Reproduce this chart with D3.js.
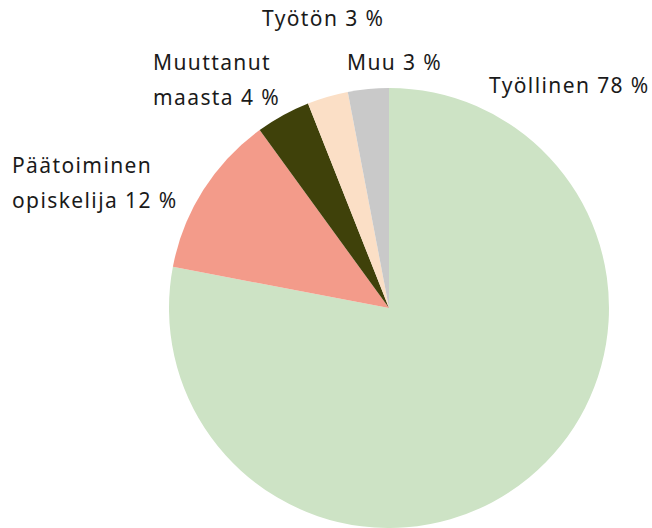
<!DOCTYPE html>
<html>
<head>
<meta charset="utf-8">
<script src="https://cdn.jsdelivr.net/npm/d3@7"></script>
<style>
  body { margin: 0; background: #fff; }
  text { font-family: "Noto Sans", sans-serif; fill: #1a1a1a; letter-spacing: 1.4px; }
</style>
</head>
<body>
<div id="chart"></div>
<script>
// Data
const categories = ["Työllinen", "Päätoiminen opiskelija", "Muuttanut maasta", "Työtön", "Muu"];
const shares = [78, 12, 4, 3, 3];
const labelLines = [
  ["Työllinen 78 %"],
  ["Päätoiminen", "opiskelija 12 %"],
  ["Muuttanut", "maasta 4 %"],
  ["Työtön 3 %"],
  ["Muu 3 %"]
];
const colors = ["#cde3c5", "#f39b8a", "#3f410a", "#fbdfc6", "#c9c9c9"];

// layout
const width = 652;
const height = 528;
const cx = 389, cy = 308, radius = 220;
// label anchors: [x, y of first baseline]
const labelPos = [[489, 93], [12, 173], [153, 70], [262, 26], [347, 70]];
const lineGap = 35;

const svg = d3.select("#chart").append("svg")
  .attr("width", width)
  .attr("height", height);

const data = categories.map((c, i) => ({ cat: c, value: shares[i] }));

const pie = d3.pie()
  .sort(null)
  .value(d => d.value);

const arc = d3.arc()
  .innerRadius(0)
  .outerRadius(radius);

const z = d3.scaleOrdinal()
  .domain(categories)
  .range(colors);

const g = svg.append("g")
  .attr("transform", "translate(" + cx + "," + cy + ")");

g.selectAll("path")
  .data(pie(data))
  .enter().append("path")
  .attr("d", arc)
  .attr("fill", d => z(d.data.cat));

const labels = svg.append("g")
  .attr("font-size", 21)
  .selectAll("text")
  .data(labelLines)
  .enter().append("text")
  .attr("x", (d, i) => labelPos[i][0])
  .attr("y", (d, i) => labelPos[i][1]);

labels.selectAll("tspan")
  .data(d => d)
  .enter().append("tspan")
  .attr("x", function() { return this.parentNode.getAttribute("x"); })
  .attr("dy", (d, i) => i === 0 ? 0 : lineGap)
  .text(d => d);
</script>
</body>
</html>
